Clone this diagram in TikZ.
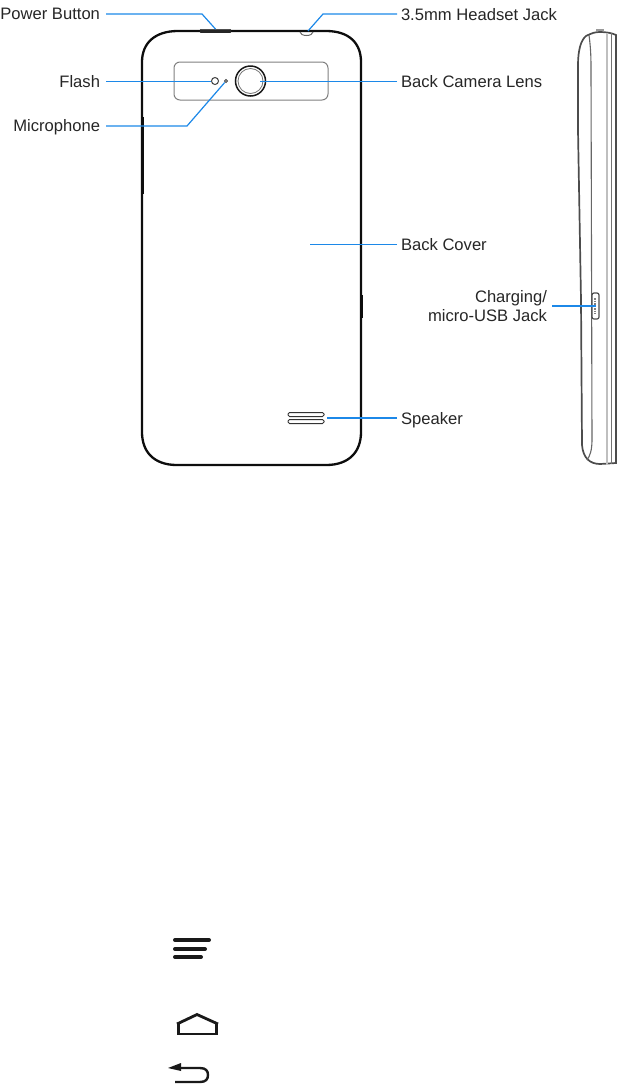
\documentclass[tikz,border=0pt]{standalone}
\usepackage{fontspec}
\setmainfont{Liberation Sans}
\usetikzlibrary{positioning}
\definecolor{leaderblue}{RGB}{28,136,232}

\begin{document}
\begin{tikzpicture}[
  x=1pt, y=-1pt,
  lbl/.style={font=\fontsize{16.6}{19.5}\selectfont, text=black!85, inner sep=2pt, outer sep=2pt, align=right},
  lbll/.style={lbl, anchor=east, inner xsep=3pt, outer xsep=3pt},
  lblr/.style={lbl, anchor=west},
  leader/.style={draw=leaderblue, line width=1.2pt},
  thinleader/.style={draw=leaderblue, line width=0.9pt},
  body/.style={draw=black!95, line width=2.3pt},
  sideline/.style={draw=black!70, line width=1.7pt},
  thinpart/.style={draw=black!60, line width=1pt},
  icon/.style={draw=black!90, line width=2.4pt},
  hole/.style={circle, draw=black!75, line width=1pt, inner sep=0pt}
]
\useasboundingbox (0,0) rectangle (625,1085);

% Back of the phone
\draw[body] (142,62) .. controls (142,43) and (155,31) .. (178,31) -- (326,31)
  .. controls (349,31) and (361,43) .. (361,62) -- (361,432)
  .. controls (361,452) and (349,465) .. (326,465) -- (177,465)
  .. controls (154,465) and (142,452) .. (142,432) -- cycle;

% Buttons on the edges
\node[draw=black!85, fill=black!85, rounded corners=1pt, minimum width=31pt, minimum height=3.5pt, inner sep=0pt] (power) at (215.5,31) {};
\draw[thinpart] (300,32) arc[start angle=180, end angle=360, x radius=6.5, y radius=-3.5];
\coordinate (jack) at (308,31);
\draw[body, line width=3pt] (142,117) -- (142,194);
\draw[body, line width=3pt] (361,295) -- (361,318);

% Camera plate
\node[draw=black!50, line width=1pt, rounded corners=6pt, minimum width=154pt, minimum height=38pt, inner sep=0pt] (plate) at (251,81) {};
\node[hole, minimum size=7pt] (flash) at (215,81) {};
\node[hole, minimum size=3pt] (mic) at (226,81) {};
\node[circle, draw=black!90, line width=1.5pt, minimum size=30pt, inner sep=0pt] (lens) at (250.5,81) {};
\node[circle, draw=black!55, line width=0.8pt, minimum size=25pt, inner sep=0pt] at (250.5,81) {};
\coordinate (lensmid) at (260,81);

% Speaker
\node[draw=black!80, line width=1pt, rounded corners=1.5pt, minimum width=36pt, minimum height=4pt, inner sep=0pt] (spktop) at (306,414.5) {};
\node[draw=black!80, line width=1pt, rounded corners=1.5pt, minimum width=36pt, minimum height=4pt, inner sep=0pt] (spkbot) at (306,421.5) {};
\coordinate (spk) at (327,418);
\coordinate (cover) at (310,244);

% Side view
\draw[sideline] (586,36) .. controls (592,33) and (595,32) .. (600,32) .. controls (606,32) and (612,33) .. (616,35)
  -- (616,463) -- (600,464) .. controls (590,464) and (583,458) .. (582,445) -- (581,300) -- (578,130) -- (578,65)
  .. controls (578,50) and (581,40) .. (586,36);
\draw[draw=black!40, line width=2.2pt] (596,30) -- (604,30);
\draw[draw=black!60, line width=1.1pt] (589,35) .. controls (591,50) and (591,60) .. (591,70) -- (592,440) .. controls (592,450) and (590,456) .. (587,460);
\draw[draw=black!25, line width=1.5pt] (607,33) -- (607,464);
\draw[draw=black!55, line width=0.9pt] (611,33) -- (611,464);
\node[draw=black!70, fill=white, line width=1.2pt, rounded corners=2pt, minimum width=7pt, minimum height=26pt, inner sep=0pt] (usb) at (595.5,306) {};
\draw[draw=black!50, line width=2pt, dash pattern=on 1.5pt off 1pt] (595,298) -- (595,314);

% Labels
\node[lbll] (lblpower) at (106,14) {Power Button};
\node[lbll] (lblflash) at (106,82) {Flash};
\node[lbll] (lblmic)   at (106,127) {Microphone};
\node[lblr] (lbljack)  at (397,15) {3.5mm Headset Jack};
\node[lblr] (lbllens)  at (397,81.5) {Back Camera Lens};
\node[lblr] (lblcover) at (397,245) {Back Cover};
\node[lblr] (lblspk)   at (397,420) {Speaker};
\node[lbl, anchor=east, inner xsep=3pt, outer xsep=2pt] (lblusb) at (552,306) {Charging/\\micro-USB Jack};

% Leaders
\coordinate (pwrbend) at (202,14);
\coordinate (jackbend) at (323,14);
\coordinate (micbend) at (187,126);
\draw[leader] (lblpower.east) -- (pwrbend) -- (power.north);
\draw[thinleader] (106,81) -- (flash);
\draw[leader] (106,126) -- (micbend) -- (mic);
\draw[leader] (397,14) -- (jackbend) -- (jack);
\draw[thinleader] (397,81) -- (lensmid);
\draw[thinleader] (397,244) -- (cover);
\draw[leader] (397,418) -- (spk);
\draw[leader] (lblusb.east) -- (usb.center);

% Key icons
\draw[icon, line width=4pt, line cap=round] (175,940) -- (209,940);
\draw[icon, line width=4pt, line cap=round] (175,949) -- (205,949);
\draw[icon, line width=4pt, line cap=round] (175,957) -- (201,957);
\draw[icon, line width=2.8pt] (177,1024) -- (197,1014.5) -- (218,1024);
\draw[icon] (178.5,1023) -- (178.5,1034) -- (216.5,1034) -- (216.5,1023);
\fill[black!90] (168,1068) -- (181,1063) -- (181,1071) -- cycle;
\draw[icon] (178,1068) -- (200,1068) .. controls (206,1068) and (208,1071) .. (208,1075) .. controls (208,1079) and (206,1082) .. (200,1082) -- (175,1082);
\end{tikzpicture}
\end{document}
